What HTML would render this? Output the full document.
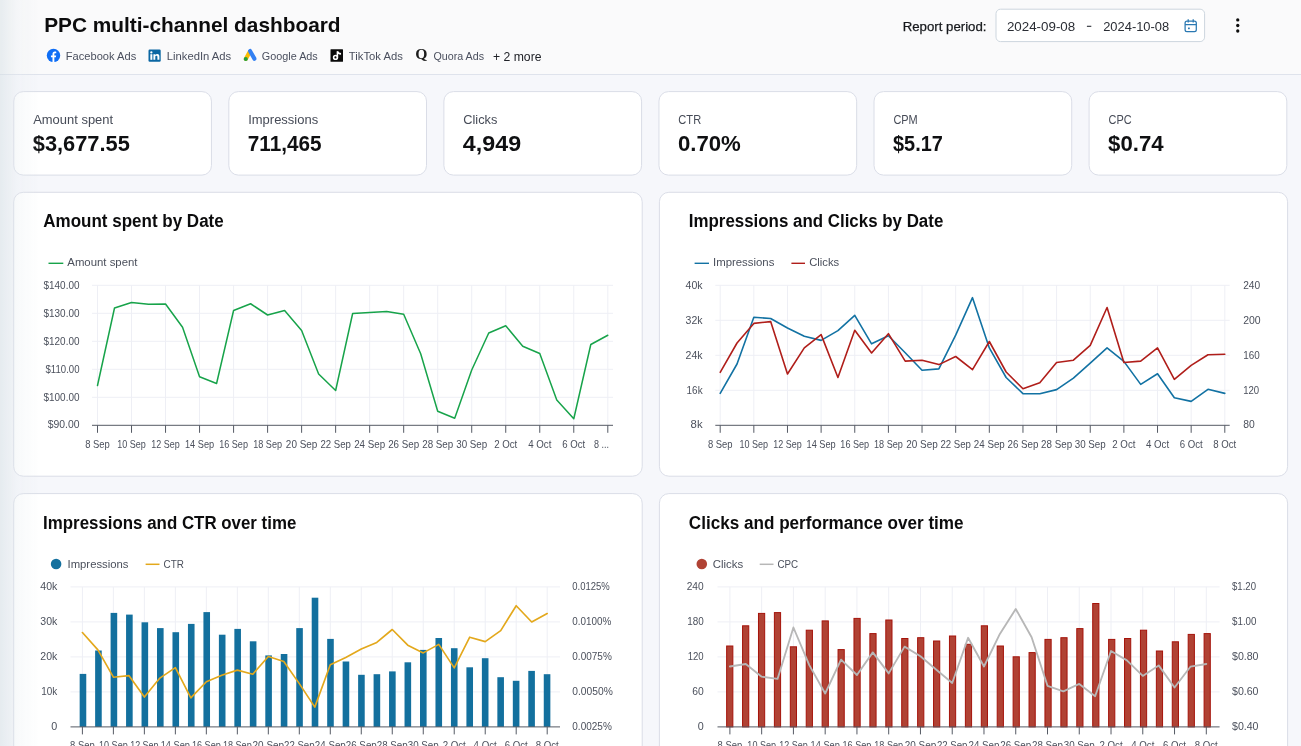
<!DOCTYPE html>
<html lang="en">
<head>
<meta charset="utf-8">
<title>PPC multi-channel dashboard</title>
<style>
*{box-sizing:border-box;margin:0;padding:0}
html,body{width:1301px;height:746px;overflow:hidden}
body{position:relative;background:#f6f7fb;font-family:"Liberation Sans", sans-serif;color:#111;-webkit-font-smoothing:antialiased}
.abs{position:absolute;white-space:nowrap}
.hdr{position:absolute;left:0;top:0;width:1301px;height:75px;background:#fafafb;border-bottom:1px solid #dfe3ec}
.charts{position:absolute;left:0;top:0;will-change:transform}
.edge{position:absolute;left:0;top:0;width:40px;height:746px;background:linear-gradient(90deg,rgba(214,224,228,.52),rgba(228,234,238,.26) 42%,rgba(240,243,246,0))}
</style>
</head>
<body>
<div class="hdr"></div>
<svg class="charts" width="1301" height="746" viewBox="0 0 1301 746" font-family="Liberation Sans, sans-serif"><rect x="13.75" y="91.6" width="197.7" height="83.5" rx="9.5" fill="#fff" stroke="#dadde7" stroke-width="1"/><rect x="228.82" y="91.6" width="197.7" height="83.5" rx="9.5" fill="#fff" stroke="#dadde7" stroke-width="1"/><rect x="443.89" y="91.6" width="197.7" height="83.5" rx="9.5" fill="#fff" stroke="#dadde7" stroke-width="1"/><rect x="658.96" y="91.6" width="197.7" height="83.5" rx="9.5" fill="#fff" stroke="#dadde7" stroke-width="1"/><rect x="874.03" y="91.6" width="197.7" height="83.5" rx="9.5" fill="#fff" stroke="#dadde7" stroke-width="1"/><rect x="1089.1" y="91.6" width="197.7" height="83.5" rx="9.5" fill="#fff" stroke="#dadde7" stroke-width="1"/><rect x="13.7" y="192.3" width="628.5" height="283.9" rx="9.5" fill="#fff" stroke="#dadde7" stroke-width="1"/><rect x="659.4" y="192.3" width="628.2" height="283.9" rx="9.5" fill="#fff" stroke="#dadde7" stroke-width="1"/><rect x="13.7" y="493.6" width="628.5" height="306.4" rx="9.5" fill="#fff" stroke="#dadde7" stroke-width="1"/><rect x="659.4" y="493.6" width="628.2" height="306.4" rx="9.5" fill="#fff" stroke="#dadde7" stroke-width="1"/><rect x="996" y="9.2" width="208.6" height="32.4" rx="4.5" fill="#fff" stroke="#cdd6de" stroke-width="1"/><line x1="92" y1="285.3" x2="613" y2="285.3" stroke="#eeeff5" stroke-width="1"/><line x1="92" y1="313.3" x2="613" y2="313.3" stroke="#eeeff5" stroke-width="1"/><line x1="92" y1="341.3" x2="613" y2="341.3" stroke="#eeeff5" stroke-width="1"/><line x1="92" y1="369.3" x2="613" y2="369.3" stroke="#eeeff5" stroke-width="1"/><line x1="92" y1="397.3" x2="613" y2="397.3" stroke="#eeeff5" stroke-width="1"/><line x1="97.5" y1="285.3" x2="97.5" y2="425.3" stroke="#eeeff5" stroke-width="1"/><line x1="131.52" y1="285.3" x2="131.52" y2="425.3" stroke="#eeeff5" stroke-width="1"/><line x1="165.54" y1="285.3" x2="165.54" y2="425.3" stroke="#eeeff5" stroke-width="1"/><line x1="199.56" y1="285.3" x2="199.56" y2="425.3" stroke="#eeeff5" stroke-width="1"/><line x1="233.58" y1="285.3" x2="233.58" y2="425.3" stroke="#eeeff5" stroke-width="1"/><line x1="267.6" y1="285.3" x2="267.6" y2="425.3" stroke="#eeeff5" stroke-width="1"/><line x1="301.62" y1="285.3" x2="301.62" y2="425.3" stroke="#eeeff5" stroke-width="1"/><line x1="335.64" y1="285.3" x2="335.64" y2="425.3" stroke="#eeeff5" stroke-width="1"/><line x1="369.66" y1="285.3" x2="369.66" y2="425.3" stroke="#eeeff5" stroke-width="1"/><line x1="403.68" y1="285.3" x2="403.68" y2="425.3" stroke="#eeeff5" stroke-width="1"/><line x1="437.7" y1="285.3" x2="437.7" y2="425.3" stroke="#eeeff5" stroke-width="1"/><line x1="471.72" y1="285.3" x2="471.72" y2="425.3" stroke="#eeeff5" stroke-width="1"/><line x1="505.74" y1="285.3" x2="505.74" y2="425.3" stroke="#eeeff5" stroke-width="1"/><line x1="539.76" y1="285.3" x2="539.76" y2="425.3" stroke="#eeeff5" stroke-width="1"/><line x1="573.78" y1="285.3" x2="573.78" y2="425.3" stroke="#eeeff5" stroke-width="1"/><line x1="607.8" y1="285.3" x2="607.8" y2="425.3" stroke="#eeeff5" stroke-width="1"/><polyline points="97.5,385.5 114.51,308 131.52,302.5 148.53,304.25 165.54,304 182.55,327.25 199.56,376.75 216.57,383.5 233.58,310.5 250.59,303.75 267.6,315 284.61,310.5 301.62,330.5 318.63,374 335.64,390.5 352.65,313.5 369.66,312.5 386.67,311.5 403.68,314.25 420.69,353.75 437.7,411.25 454.71,418.25 471.72,370 488.73,333 505.74,325.75 522.75,346.25 539.76,353.5 556.77,400 573.78,418.75 590.79,344.5 607.8,335.25" fill="none" stroke="#17a34a" stroke-width="1.5" stroke-linejoin="round" stroke-linecap="round"/><line x1="92" y1="425.3" x2="613" y2="425.3" stroke="#555a64" stroke-width="1"/><line x1="97.5" y1="425.3" x2="97.5" y2="432.8" stroke="#555a64" stroke-width="1"/><line x1="131.52" y1="425.3" x2="131.52" y2="432.8" stroke="#555a64" stroke-width="1"/><line x1="165.54" y1="425.3" x2="165.54" y2="432.8" stroke="#555a64" stroke-width="1"/><line x1="199.56" y1="425.3" x2="199.56" y2="432.8" stroke="#555a64" stroke-width="1"/><line x1="233.58" y1="425.3" x2="233.58" y2="432.8" stroke="#555a64" stroke-width="1"/><line x1="267.6" y1="425.3" x2="267.6" y2="432.8" stroke="#555a64" stroke-width="1"/><line x1="301.62" y1="425.3" x2="301.62" y2="432.8" stroke="#555a64" stroke-width="1"/><line x1="335.64" y1="425.3" x2="335.64" y2="432.8" stroke="#555a64" stroke-width="1"/><line x1="369.66" y1="425.3" x2="369.66" y2="432.8" stroke="#555a64" stroke-width="1"/><line x1="403.68" y1="425.3" x2="403.68" y2="432.8" stroke="#555a64" stroke-width="1"/><line x1="437.7" y1="425.3" x2="437.7" y2="432.8" stroke="#555a64" stroke-width="1"/><line x1="471.72" y1="425.3" x2="471.72" y2="432.8" stroke="#555a64" stroke-width="1"/><line x1="505.74" y1="425.3" x2="505.74" y2="432.8" stroke="#555a64" stroke-width="1"/><line x1="539.76" y1="425.3" x2="539.76" y2="432.8" stroke="#555a64" stroke-width="1"/><line x1="573.78" y1="425.3" x2="573.78" y2="432.8" stroke="#555a64" stroke-width="1"/><line x1="607.8" y1="425.3" x2="607.8" y2="432.8" stroke="#555a64" stroke-width="1"/><text x="79.5" y="288.7" font-size="10.5" fill="#4b505c" text-anchor="end" textLength="36" lengthAdjust="spacingAndGlyphs">$140.00</text><text x="79.5" y="316.7" font-size="10.5" fill="#4b505c" text-anchor="end" textLength="36" lengthAdjust="spacingAndGlyphs">$130.00</text><text x="79.5" y="344.7" font-size="10.5" fill="#4b505c" text-anchor="end" textLength="36" lengthAdjust="spacingAndGlyphs">$120.00</text><text x="79.5" y="372.7" font-size="10.5" fill="#4b505c" text-anchor="end" textLength="34" lengthAdjust="spacingAndGlyphs">$110.00</text><text x="79.5" y="400.7" font-size="10.5" fill="#4b505c" text-anchor="end" textLength="36" lengthAdjust="spacingAndGlyphs">$100.00</text><text x="79.5" y="428" font-size="10.5" fill="#4b505c" text-anchor="end" textLength="31.8" lengthAdjust="spacingAndGlyphs">$90.00</text><text x="97.5" y="447.7" font-size="10.6" fill="#4b505c" text-anchor="middle" textLength="24.6" lengthAdjust="spacingAndGlyphs">8 Sep</text><text x="131.52" y="447.7" font-size="10.6" fill="#4b505c" text-anchor="middle" textLength="28.6" lengthAdjust="spacingAndGlyphs">10 Sep</text><text x="165.54" y="447.7" font-size="10.6" fill="#4b505c" text-anchor="middle" textLength="28.4" lengthAdjust="spacingAndGlyphs">12 Sep</text><text x="199.56" y="447.7" font-size="10.6" fill="#4b505c" text-anchor="middle" textLength="29.2" lengthAdjust="spacingAndGlyphs">14 Sep</text><text x="233.58" y="447.7" font-size="10.6" fill="#4b505c" text-anchor="middle" textLength="28.8" lengthAdjust="spacingAndGlyphs">16 Sep</text><text x="267.6" y="447.7" font-size="10.6" fill="#4b505c" text-anchor="middle" textLength="28.8" lengthAdjust="spacingAndGlyphs">18 Sep</text><text x="301.62" y="447.7" font-size="10.6" fill="#4b505c" text-anchor="middle" textLength="31.5" lengthAdjust="spacingAndGlyphs">20 Sep</text><text x="335.64" y="447.7" font-size="10.6" fill="#4b505c" text-anchor="middle" textLength="30.5" lengthAdjust="spacingAndGlyphs">22 Sep</text><text x="369.66" y="447.7" font-size="10.6" fill="#4b505c" text-anchor="middle" textLength="31" lengthAdjust="spacingAndGlyphs">24 Sep</text><text x="403.68" y="447.7" font-size="10.6" fill="#4b505c" text-anchor="middle" textLength="31" lengthAdjust="spacingAndGlyphs">26 Sep</text><text x="437.7" y="447.7" font-size="10.6" fill="#4b505c" text-anchor="middle" textLength="31" lengthAdjust="spacingAndGlyphs">28 Sep</text><text x="471.72" y="447.7" font-size="10.6" fill="#4b505c" text-anchor="middle" textLength="31" lengthAdjust="spacingAndGlyphs">30 Sep</text><text x="505.74" y="447.7" font-size="10.6" fill="#4b505c" text-anchor="middle" textLength="23.2" lengthAdjust="spacingAndGlyphs">2 Oct</text><text x="539.76" y="447.7" font-size="10.6" fill="#4b505c" text-anchor="middle" textLength="23.2" lengthAdjust="spacingAndGlyphs">4 Oct</text><text x="573.78" y="447.7" font-size="10.6" fill="#4b505c" text-anchor="middle" textLength="23" lengthAdjust="spacingAndGlyphs">6 Oct</text><text x="609" y="447.7" font-size="10.6" fill="#4b505c" text-anchor="end" textLength="15" lengthAdjust="spacingAndGlyphs">8 ...</text><line x1="48.5" y1="263.3" x2="63.3" y2="263.3" stroke="#17a34a" stroke-width="1.4"/><text x="67.3" y="266.4" font-size="11.4" fill="#4b505c" textLength="70.2" lengthAdjust="spacingAndGlyphs">Amount spent</text><line x1="715.3" y1="285.3" x2="1229.7" y2="285.3" stroke="#eeeff5" stroke-width="1"/><line x1="715.3" y1="320.3" x2="1229.7" y2="320.3" stroke="#eeeff5" stroke-width="1"/><line x1="715.3" y1="355.3" x2="1229.7" y2="355.3" stroke="#eeeff5" stroke-width="1"/><line x1="715.3" y1="390.3" x2="1229.7" y2="390.3" stroke="#eeeff5" stroke-width="1"/><line x1="720.2" y1="285.3" x2="720.2" y2="425.3" stroke="#eeeff5" stroke-width="1"/><line x1="753.84" y1="285.3" x2="753.84" y2="425.3" stroke="#eeeff5" stroke-width="1"/><line x1="787.48" y1="285.3" x2="787.48" y2="425.3" stroke="#eeeff5" stroke-width="1"/><line x1="821.12" y1="285.3" x2="821.12" y2="425.3" stroke="#eeeff5" stroke-width="1"/><line x1="854.76" y1="285.3" x2="854.76" y2="425.3" stroke="#eeeff5" stroke-width="1"/><line x1="888.4" y1="285.3" x2="888.4" y2="425.3" stroke="#eeeff5" stroke-width="1"/><line x1="922.04" y1="285.3" x2="922.04" y2="425.3" stroke="#eeeff5" stroke-width="1"/><line x1="955.68" y1="285.3" x2="955.68" y2="425.3" stroke="#eeeff5" stroke-width="1"/><line x1="989.32" y1="285.3" x2="989.32" y2="425.3" stroke="#eeeff5" stroke-width="1"/><line x1="1022.96" y1="285.3" x2="1022.96" y2="425.3" stroke="#eeeff5" stroke-width="1"/><line x1="1056.6" y1="285.3" x2="1056.6" y2="425.3" stroke="#eeeff5" stroke-width="1"/><line x1="1090.24" y1="285.3" x2="1090.24" y2="425.3" stroke="#eeeff5" stroke-width="1"/><line x1="1123.88" y1="285.3" x2="1123.88" y2="425.3" stroke="#eeeff5" stroke-width="1"/><line x1="1157.52" y1="285.3" x2="1157.52" y2="425.3" stroke="#eeeff5" stroke-width="1"/><line x1="1191.16" y1="285.3" x2="1191.16" y2="425.3" stroke="#eeeff5" stroke-width="1"/><line x1="1224.8" y1="285.3" x2="1224.8" y2="425.3" stroke="#eeeff5" stroke-width="1"/><polyline points="720.2,393.4 737.02,364 753.84,317.3 770.66,318.5 787.48,328 804.3,336.3 821.12,340.4 837.94,330.6 854.76,315.3 871.58,343.8 888.4,335.8 905.22,352.7 922.04,370.3 938.86,368.9 955.68,335.2 972.5,297.7 989.32,347.9 1006.14,377.5 1022.96,393.7 1039.78,393.7 1056.6,389.6 1073.42,378.1 1090.24,363.1 1107.06,347.9 1123.88,361.4 1140.7,384.4 1157.52,373.8 1174.34,397.7 1191.16,401.4 1207.98,389.3 1224.8,393.4" fill="none" stroke="#1272a3" stroke-width="1.6" stroke-linejoin="round" stroke-linecap="round"/><polyline points="720.2,372.3 737.02,343 753.84,323.4 770.66,321.6 787.48,374 804.3,347.9 821.12,334.6 837.94,377.5 854.76,330.3 871.58,353 888.4,333.7 905.22,361.1 922.04,360.2 938.86,364.6 955.68,356.5 972.5,369.7 989.32,341.5 1006.14,372 1022.96,388.8 1039.78,382.7 1056.6,362.5 1073.42,360.2 1090.24,345.3 1107.06,307.5 1123.88,362.5 1140.7,361.1 1157.52,347.9 1174.34,379.3 1191.16,365.4 1207.98,354.8 1224.8,354.2" fill="none" stroke="#b01e1a" stroke-width="1.6" stroke-linejoin="round" stroke-linecap="round"/><line x1="715.3" y1="425.3" x2="1229.7" y2="425.3" stroke="#555a64" stroke-width="1"/><line x1="720.2" y1="425.3" x2="720.2" y2="432.8" stroke="#555a64" stroke-width="1"/><line x1="753.84" y1="425.3" x2="753.84" y2="432.8" stroke="#555a64" stroke-width="1"/><line x1="787.48" y1="425.3" x2="787.48" y2="432.8" stroke="#555a64" stroke-width="1"/><line x1="821.12" y1="425.3" x2="821.12" y2="432.8" stroke="#555a64" stroke-width="1"/><line x1="854.76" y1="425.3" x2="854.76" y2="432.8" stroke="#555a64" stroke-width="1"/><line x1="888.4" y1="425.3" x2="888.4" y2="432.8" stroke="#555a64" stroke-width="1"/><line x1="922.04" y1="425.3" x2="922.04" y2="432.8" stroke="#555a64" stroke-width="1"/><line x1="955.68" y1="425.3" x2="955.68" y2="432.8" stroke="#555a64" stroke-width="1"/><line x1="989.32" y1="425.3" x2="989.32" y2="432.8" stroke="#555a64" stroke-width="1"/><line x1="1022.96" y1="425.3" x2="1022.96" y2="432.8" stroke="#555a64" stroke-width="1"/><line x1="1056.6" y1="425.3" x2="1056.6" y2="432.8" stroke="#555a64" stroke-width="1"/><line x1="1090.24" y1="425.3" x2="1090.24" y2="432.8" stroke="#555a64" stroke-width="1"/><line x1="1123.88" y1="425.3" x2="1123.88" y2="432.8" stroke="#555a64" stroke-width="1"/><line x1="1157.52" y1="425.3" x2="1157.52" y2="432.8" stroke="#555a64" stroke-width="1"/><line x1="1191.16" y1="425.3" x2="1191.16" y2="432.8" stroke="#555a64" stroke-width="1"/><line x1="1224.8" y1="425.3" x2="1224.8" y2="432.8" stroke="#555a64" stroke-width="1"/><text x="702.6" y="288.7" font-size="10.5" fill="#4b505c" text-anchor="end" textLength="17" lengthAdjust="spacingAndGlyphs">40k</text><text x="702.6" y="323.7" font-size="10.5" fill="#4b505c" text-anchor="end" textLength="17" lengthAdjust="spacingAndGlyphs">32k</text><text x="702.6" y="358.7" font-size="10.5" fill="#4b505c" text-anchor="end" textLength="17" lengthAdjust="spacingAndGlyphs">24k</text><text x="702.6" y="393.7" font-size="10.5" fill="#4b505c" text-anchor="end" textLength="16" lengthAdjust="spacingAndGlyphs">16k</text><text x="702.6" y="428" font-size="10.5" fill="#4b505c" text-anchor="end" textLength="12" lengthAdjust="spacingAndGlyphs">8k</text><text x="1243.2" y="288.7" font-size="10.5" fill="#4b505c" textLength="17" lengthAdjust="spacingAndGlyphs">240</text><text x="1243.2" y="323.7" font-size="10.5" fill="#4b505c" textLength="17.5" lengthAdjust="spacingAndGlyphs">200</text><text x="1243.2" y="358.7" font-size="10.5" fill="#4b505c" textLength="16.5" lengthAdjust="spacingAndGlyphs">160</text><text x="1243.2" y="393.7" font-size="10.5" fill="#4b505c" textLength="16" lengthAdjust="spacingAndGlyphs">120</text><text x="1243.2" y="428" font-size="10.5" fill="#4b505c" textLength="11.5" lengthAdjust="spacingAndGlyphs">80</text><text x="720.2" y="447.7" font-size="10.6" fill="#4b505c" text-anchor="middle" textLength="24.6" lengthAdjust="spacingAndGlyphs">8 Sep</text><text x="753.84" y="447.7" font-size="10.6" fill="#4b505c" text-anchor="middle" textLength="28.6" lengthAdjust="spacingAndGlyphs">10 Sep</text><text x="787.48" y="447.7" font-size="10.6" fill="#4b505c" text-anchor="middle" textLength="28.4" lengthAdjust="spacingAndGlyphs">12 Sep</text><text x="821.12" y="447.7" font-size="10.6" fill="#4b505c" text-anchor="middle" textLength="29.2" lengthAdjust="spacingAndGlyphs">14 Sep</text><text x="854.76" y="447.7" font-size="10.6" fill="#4b505c" text-anchor="middle" textLength="28.8" lengthAdjust="spacingAndGlyphs">16 Sep</text><text x="888.4" y="447.7" font-size="10.6" fill="#4b505c" text-anchor="middle" textLength="28.8" lengthAdjust="spacingAndGlyphs">18 Sep</text><text x="922.04" y="447.7" font-size="10.6" fill="#4b505c" text-anchor="middle" textLength="31.5" lengthAdjust="spacingAndGlyphs">20 Sep</text><text x="955.68" y="447.7" font-size="10.6" fill="#4b505c" text-anchor="middle" textLength="30.5" lengthAdjust="spacingAndGlyphs">22 Sep</text><text x="989.32" y="447.7" font-size="10.6" fill="#4b505c" text-anchor="middle" textLength="31" lengthAdjust="spacingAndGlyphs">24 Sep</text><text x="1022.96" y="447.7" font-size="10.6" fill="#4b505c" text-anchor="middle" textLength="31" lengthAdjust="spacingAndGlyphs">26 Sep</text><text x="1056.6" y="447.7" font-size="10.6" fill="#4b505c" text-anchor="middle" textLength="31" lengthAdjust="spacingAndGlyphs">28 Sep</text><text x="1090.24" y="447.7" font-size="10.6" fill="#4b505c" text-anchor="middle" textLength="31" lengthAdjust="spacingAndGlyphs">30 Sep</text><text x="1123.88" y="447.7" font-size="10.6" fill="#4b505c" text-anchor="middle" textLength="23.2" lengthAdjust="spacingAndGlyphs">2 Oct</text><text x="1157.52" y="447.7" font-size="10.6" fill="#4b505c" text-anchor="middle" textLength="23.2" lengthAdjust="spacingAndGlyphs">4 Oct</text><text x="1191.16" y="447.7" font-size="10.6" fill="#4b505c" text-anchor="middle" textLength="23" lengthAdjust="spacingAndGlyphs">6 Oct</text><text x="1224.8" y="447.7" font-size="10.6" fill="#4b505c" text-anchor="middle" textLength="23" lengthAdjust="spacingAndGlyphs">8 Oct</text><line x1="694.6" y1="263.3" x2="709" y2="263.3" stroke="#1272a3" stroke-width="1.4"/><text x="713" y="266.4" font-size="11.4" fill="#4b505c" textLength="61.4" lengthAdjust="spacingAndGlyphs">Impressions</text><line x1="791.4" y1="263.3" x2="805" y2="263.3" stroke="#b01e1a" stroke-width="1.4"/><text x="809.2" y="266.4" font-size="11.4" fill="#4b505c" textLength="30" lengthAdjust="spacingAndGlyphs">Clicks</text><line x1="70.5" y1="586.9" x2="560" y2="586.9" stroke="#eeeff5" stroke-width="1"/><line x1="70.5" y1="621.9" x2="560" y2="621.9" stroke="#eeeff5" stroke-width="1"/><line x1="70.5" y1="656.9" x2="560" y2="656.9" stroke="#eeeff5" stroke-width="1"/><line x1="70.5" y1="691.9" x2="560" y2="691.9" stroke="#eeeff5" stroke-width="1"/><line x1="82.4" y1="586.9" x2="82.4" y2="726.9" stroke="#eeeff5" stroke-width="1"/><line x1="113.39" y1="586.9" x2="113.39" y2="726.9" stroke="#eeeff5" stroke-width="1"/><line x1="144.37" y1="586.9" x2="144.37" y2="726.9" stroke="#eeeff5" stroke-width="1"/><line x1="175.36" y1="586.9" x2="175.36" y2="726.9" stroke="#eeeff5" stroke-width="1"/><line x1="206.34" y1="586.9" x2="206.34" y2="726.9" stroke="#eeeff5" stroke-width="1"/><line x1="237.33" y1="586.9" x2="237.33" y2="726.9" stroke="#eeeff5" stroke-width="1"/><line x1="268.32" y1="586.9" x2="268.32" y2="726.9" stroke="#eeeff5" stroke-width="1"/><line x1="299.3" y1="586.9" x2="299.3" y2="726.9" stroke="#eeeff5" stroke-width="1"/><line x1="330.29" y1="586.9" x2="330.29" y2="726.9" stroke="#eeeff5" stroke-width="1"/><line x1="361.27" y1="586.9" x2="361.27" y2="726.9" stroke="#eeeff5" stroke-width="1"/><line x1="392.26" y1="586.9" x2="392.26" y2="726.9" stroke="#eeeff5" stroke-width="1"/><line x1="423.25" y1="586.9" x2="423.25" y2="726.9" stroke="#eeeff5" stroke-width="1"/><line x1="454.23" y1="586.9" x2="454.23" y2="726.9" stroke="#eeeff5" stroke-width="1"/><line x1="485.22" y1="586.9" x2="485.22" y2="726.9" stroke="#eeeff5" stroke-width="1"/><line x1="516.2" y1="586.9" x2="516.2" y2="726.9" stroke="#eeeff5" stroke-width="1"/><line x1="547.19" y1="586.9" x2="547.19" y2="726.9" stroke="#eeeff5" stroke-width="1"/><rect x="79.66" y="673.9" width="6.6" height="53" fill="#13709e"/><rect x="95.13" y="650.5" width="6.6" height="76.4" fill="#13709e"/><rect x="110.6" y="612.9" width="6.6" height="114" fill="#13709e"/><rect x="126.07" y="614.6" width="6.6" height="112.3" fill="#13709e"/><rect x="141.54" y="622.3" width="6.6" height="104.6" fill="#13709e"/><rect x="157.01" y="628.1" width="6.6" height="98.8" fill="#13709e"/><rect x="172.48" y="632.2" width="6.6" height="94.7" fill="#13709e"/><rect x="187.95" y="623.9" width="6.6" height="103" fill="#13709e"/><rect x="203.42" y="612.1" width="6.6" height="114.8" fill="#13709e"/><rect x="218.89" y="634.7" width="6.6" height="92.2" fill="#13709e"/><rect x="234.36" y="628.9" width="6.6" height="98" fill="#13709e"/><rect x="249.83" y="641.3" width="6.6" height="85.6" fill="#13709e"/><rect x="265.3" y="655.4" width="6.6" height="71.5" fill="#13709e"/><rect x="280.77" y="654" width="6.6" height="72.9" fill="#13709e"/><rect x="296.24" y="628.1" width="6.6" height="98.8" fill="#13709e"/><rect x="311.71" y="597.7" width="6.6" height="129.2" fill="#13709e"/><rect x="327.18" y="638.9" width="6.6" height="88" fill="#13709e"/><rect x="342.65" y="661.5" width="6.6" height="65.4" fill="#13709e"/><rect x="358.12" y="674.8" width="6.6" height="52.1" fill="#13709e"/><rect x="373.59" y="674.2" width="6.6" height="52.7" fill="#13709e"/><rect x="389.06" y="671.4" width="6.6" height="55.5" fill="#13709e"/><rect x="404.53" y="662.3" width="6.6" height="64.6" fill="#13709e"/><rect x="420" y="649.9" width="6.6" height="77" fill="#13709e"/><rect x="435.47" y="638" width="6.6" height="88.9" fill="#13709e"/><rect x="450.94" y="648.2" width="6.6" height="78.7" fill="#13709e"/><rect x="466.41" y="667.3" width="6.6" height="59.6" fill="#13709e"/><rect x="481.88" y="658.2" width="6.6" height="68.7" fill="#13709e"/><rect x="497.35" y="677.2" width="6.6" height="49.7" fill="#13709e"/><rect x="512.82" y="680.8" width="6.6" height="46.1" fill="#13709e"/><rect x="528.29" y="670.9" width="6.6" height="56" fill="#13709e"/><rect x="543.76" y="674.2" width="6.6" height="52.7" fill="#13709e"/><polyline points="82.4,632.5 97.89,649.9 113.39,677.2 128.88,675.6 144.37,697.1 159.87,678.1 175.36,667.6 190.85,697.9 206.34,681.7 221.84,675.3 237.33,670.1 252.82,674.2 268.32,656.5 283.81,661.5 299.3,683.6 314.8,707.1 330.29,664.8 345.78,657.4 361.27,649.1 376.77,642.4 392.26,629.5 407.75,645.2 423.25,652.9 438.74,644.4 454.23,667.9 469.73,637.2 485.22,641.6 500.71,630.6 516.2,605.7 531.7,622 547.19,613.5" fill="none" stroke="#e3a81c" stroke-width="1.65" stroke-linejoin="round" stroke-linecap="round"/><line x1="70.5" y1="726.9" x2="560" y2="726.9" stroke="#555a64" stroke-width="1"/><line x1="82.4" y1="726.9" x2="82.4" y2="734.4" stroke="#555a64" stroke-width="1"/><line x1="113.39" y1="726.9" x2="113.39" y2="734.4" stroke="#555a64" stroke-width="1"/><line x1="144.37" y1="726.9" x2="144.37" y2="734.4" stroke="#555a64" stroke-width="1"/><line x1="175.36" y1="726.9" x2="175.36" y2="734.4" stroke="#555a64" stroke-width="1"/><line x1="206.34" y1="726.9" x2="206.34" y2="734.4" stroke="#555a64" stroke-width="1"/><line x1="237.33" y1="726.9" x2="237.33" y2="734.4" stroke="#555a64" stroke-width="1"/><line x1="268.32" y1="726.9" x2="268.32" y2="734.4" stroke="#555a64" stroke-width="1"/><line x1="299.3" y1="726.9" x2="299.3" y2="734.4" stroke="#555a64" stroke-width="1"/><line x1="330.29" y1="726.9" x2="330.29" y2="734.4" stroke="#555a64" stroke-width="1"/><line x1="361.27" y1="726.9" x2="361.27" y2="734.4" stroke="#555a64" stroke-width="1"/><line x1="392.26" y1="726.9" x2="392.26" y2="734.4" stroke="#555a64" stroke-width="1"/><line x1="423.25" y1="726.9" x2="423.25" y2="734.4" stroke="#555a64" stroke-width="1"/><line x1="454.23" y1="726.9" x2="454.23" y2="734.4" stroke="#555a64" stroke-width="1"/><line x1="485.22" y1="726.9" x2="485.22" y2="734.4" stroke="#555a64" stroke-width="1"/><line x1="516.2" y1="726.9" x2="516.2" y2="734.4" stroke="#555a64" stroke-width="1"/><line x1="547.19" y1="726.9" x2="547.19" y2="734.4" stroke="#555a64" stroke-width="1"/><text x="57.3" y="590.3" font-size="10.5" fill="#4b505c" text-anchor="end" textLength="17" lengthAdjust="spacingAndGlyphs">40k</text><text x="57.3" y="625.3" font-size="10.5" fill="#4b505c" text-anchor="end" textLength="17" lengthAdjust="spacingAndGlyphs">30k</text><text x="57.3" y="660.3" font-size="10.5" fill="#4b505c" text-anchor="end" textLength="17" lengthAdjust="spacingAndGlyphs">20k</text><text x="57.3" y="695.3" font-size="10.5" fill="#4b505c" text-anchor="end" textLength="16" lengthAdjust="spacingAndGlyphs">10k</text><text x="57.3" y="729.6" font-size="10.5" fill="#4b505c" text-anchor="end" textLength="6" lengthAdjust="spacingAndGlyphs">0</text><text x="572.3" y="590.3" font-size="10.5" fill="#4b505c" textLength="37.5" lengthAdjust="spacingAndGlyphs">0.0125%</text><text x="572.3" y="625.3" font-size="10.5" fill="#4b505c" textLength="39" lengthAdjust="spacingAndGlyphs">0.0100%</text><text x="572.3" y="660.3" font-size="10.5" fill="#4b505c" textLength="39.5" lengthAdjust="spacingAndGlyphs">0.0075%</text><text x="572.3" y="695.3" font-size="10.5" fill="#4b505c" textLength="40.5" lengthAdjust="spacingAndGlyphs">0.0050%</text><text x="572.3" y="729.6" font-size="10.5" fill="#4b505c" textLength="39.5" lengthAdjust="spacingAndGlyphs">0.0025%</text><text x="82.4" y="749.3" font-size="10.6" fill="#4b505c" text-anchor="middle" textLength="24.6" lengthAdjust="spacingAndGlyphs">8 Sep</text><text x="113.39" y="749.3" font-size="10.6" fill="#4b505c" text-anchor="middle" textLength="28.6" lengthAdjust="spacingAndGlyphs">10 Sep</text><text x="144.37" y="749.3" font-size="10.6" fill="#4b505c" text-anchor="middle" textLength="28.4" lengthAdjust="spacingAndGlyphs">12 Sep</text><text x="175.36" y="749.3" font-size="10.6" fill="#4b505c" text-anchor="middle" textLength="29.2" lengthAdjust="spacingAndGlyphs">14 Sep</text><text x="206.34" y="749.3" font-size="10.6" fill="#4b505c" text-anchor="middle" textLength="28.8" lengthAdjust="spacingAndGlyphs">16 Sep</text><text x="237.33" y="749.3" font-size="10.6" fill="#4b505c" text-anchor="middle" textLength="28.8" lengthAdjust="spacingAndGlyphs">18 Sep</text><text x="268.32" y="749.3" font-size="10.6" fill="#4b505c" text-anchor="middle" textLength="31.5" lengthAdjust="spacingAndGlyphs">20 Sep</text><text x="299.3" y="749.3" font-size="10.6" fill="#4b505c" text-anchor="middle" textLength="30.5" lengthAdjust="spacingAndGlyphs">22 Sep</text><text x="330.29" y="749.3" font-size="10.6" fill="#4b505c" text-anchor="middle" textLength="31" lengthAdjust="spacingAndGlyphs">24 Sep</text><text x="361.27" y="749.3" font-size="10.6" fill="#4b505c" text-anchor="middle" textLength="31" lengthAdjust="spacingAndGlyphs">26 Sep</text><text x="392.26" y="749.3" font-size="10.6" fill="#4b505c" text-anchor="middle" textLength="31" lengthAdjust="spacingAndGlyphs">28 Sep</text><text x="423.25" y="749.3" font-size="10.6" fill="#4b505c" text-anchor="middle" textLength="31" lengthAdjust="spacingAndGlyphs">30 Sep</text><text x="454.23" y="749.3" font-size="10.6" fill="#4b505c" text-anchor="middle" textLength="23.2" lengthAdjust="spacingAndGlyphs">2 Oct</text><text x="485.22" y="749.3" font-size="10.6" fill="#4b505c" text-anchor="middle" textLength="23.2" lengthAdjust="spacingAndGlyphs">4 Oct</text><text x="516.2" y="749.3" font-size="10.6" fill="#4b505c" text-anchor="middle" textLength="23" lengthAdjust="spacingAndGlyphs">6 Oct</text><text x="547.19" y="749.3" font-size="10.6" fill="#4b505c" text-anchor="middle" textLength="23" lengthAdjust="spacingAndGlyphs">8 Oct</text><circle cx="56.1" cy="564" r="5.3" fill="#13709e"/><text x="67.5" y="568.1" font-size="11.4" fill="#4b505c" textLength="61" lengthAdjust="spacingAndGlyphs">Impressions</text><line x1="145.6" y1="564.3" x2="159.5" y2="564.3" stroke="#e3a81c" stroke-width="1.5"/><text x="163.6" y="568.1" font-size="11.4" fill="#4b505c" textLength="20.4" lengthAdjust="spacingAndGlyphs">CTR</text><line x1="717.5" y1="586.9" x2="1219.6" y2="586.9" stroke="#eeeff5" stroke-width="1"/><line x1="717.5" y1="621.9" x2="1219.6" y2="621.9" stroke="#eeeff5" stroke-width="1"/><line x1="717.5" y1="656.9" x2="1219.6" y2="656.9" stroke="#eeeff5" stroke-width="1"/><line x1="717.5" y1="691.9" x2="1219.6" y2="691.9" stroke="#eeeff5" stroke-width="1"/><line x1="729.9" y1="586.9" x2="729.9" y2="726.9" stroke="#eeeff5" stroke-width="1"/><line x1="761.66" y1="586.9" x2="761.66" y2="726.9" stroke="#eeeff5" stroke-width="1"/><line x1="793.42" y1="586.9" x2="793.42" y2="726.9" stroke="#eeeff5" stroke-width="1"/><line x1="825.18" y1="586.9" x2="825.18" y2="726.9" stroke="#eeeff5" stroke-width="1"/><line x1="856.94" y1="586.9" x2="856.94" y2="726.9" stroke="#eeeff5" stroke-width="1"/><line x1="888.7" y1="586.9" x2="888.7" y2="726.9" stroke="#eeeff5" stroke-width="1"/><line x1="920.46" y1="586.9" x2="920.46" y2="726.9" stroke="#eeeff5" stroke-width="1"/><line x1="952.22" y1="586.9" x2="952.22" y2="726.9" stroke="#eeeff5" stroke-width="1"/><line x1="983.98" y1="586.9" x2="983.98" y2="726.9" stroke="#eeeff5" stroke-width="1"/><line x1="1015.74" y1="586.9" x2="1015.74" y2="726.9" stroke="#eeeff5" stroke-width="1"/><line x1="1047.5" y1="586.9" x2="1047.5" y2="726.9" stroke="#eeeff5" stroke-width="1"/><line x1="1079.26" y1="586.9" x2="1079.26" y2="726.9" stroke="#eeeff5" stroke-width="1"/><line x1="1111.02" y1="586.9" x2="1111.02" y2="726.9" stroke="#eeeff5" stroke-width="1"/><line x1="1142.78" y1="586.9" x2="1142.78" y2="726.9" stroke="#eeeff5" stroke-width="1"/><line x1="1174.54" y1="586.9" x2="1174.54" y2="726.9" stroke="#eeeff5" stroke-width="1"/><line x1="1206.3" y1="586.9" x2="1206.3" y2="726.9" stroke="#eeeff5" stroke-width="1"/><rect x="726.65" y="646" width="6.2" height="80.9" fill="#b04234" stroke="#a5130a" stroke-width="1"/><rect x="742.56" y="625.8" width="6.2" height="101.1" fill="#b04234" stroke="#a5130a" stroke-width="1"/><rect x="758.48" y="613.4" width="6.2" height="113.5" fill="#b04234" stroke="#a5130a" stroke-width="1"/><rect x="774.39" y="612.6" width="6.2" height="114.3" fill="#b04234" stroke="#a5130a" stroke-width="1"/><rect x="790.31" y="646.8" width="6.2" height="80.1" fill="#b04234" stroke="#a5130a" stroke-width="1"/><rect x="806.23" y="630.2" width="6.2" height="96.7" fill="#b04234" stroke="#a5130a" stroke-width="1"/><rect x="822.14" y="620.9" width="6.2" height="106" fill="#b04234" stroke="#a5130a" stroke-width="1"/><rect x="838.05" y="649.6" width="6.2" height="77.3" fill="#b04234" stroke="#a5130a" stroke-width="1"/><rect x="853.97" y="618.4" width="6.2" height="108.5" fill="#b04234" stroke="#a5130a" stroke-width="1"/><rect x="869.88" y="633.6" width="6.2" height="93.3" fill="#b04234" stroke="#a5130a" stroke-width="1"/><rect x="885.8" y="620" width="6.2" height="106.9" fill="#b04234" stroke="#a5130a" stroke-width="1"/><rect x="901.72" y="638.5" width="6.2" height="88.4" fill="#b04234" stroke="#a5130a" stroke-width="1"/><rect x="917.63" y="637.7" width="6.2" height="89.2" fill="#b04234" stroke="#a5130a" stroke-width="1"/><rect x="933.54" y="641" width="6.2" height="85.9" fill="#b04234" stroke="#a5130a" stroke-width="1"/><rect x="949.46" y="636" width="6.2" height="90.9" fill="#b04234" stroke="#a5130a" stroke-width="1"/><rect x="965.38" y="644.3" width="6.2" height="82.6" fill="#b04234" stroke="#a5130a" stroke-width="1"/><rect x="981.29" y="625.8" width="6.2" height="101.1" fill="#b04234" stroke="#a5130a" stroke-width="1"/><rect x="997.21" y="646" width="6.2" height="80.9" fill="#b04234" stroke="#a5130a" stroke-width="1"/><rect x="1013.12" y="656.8" width="6.2" height="70.1" fill="#b04234" stroke="#a5130a" stroke-width="1"/><rect x="1029.04" y="652.6" width="6.2" height="74.3" fill="#b04234" stroke="#a5130a" stroke-width="1"/><rect x="1044.95" y="639.4" width="6.2" height="87.5" fill="#b04234" stroke="#a5130a" stroke-width="1"/><rect x="1060.87" y="637.7" width="6.2" height="89.2" fill="#b04234" stroke="#a5130a" stroke-width="1"/><rect x="1076.78" y="628.6" width="6.2" height="98.3" fill="#b04234" stroke="#a5130a" stroke-width="1"/><rect x="1092.7" y="603.5" width="6.2" height="123.4" fill="#b04234" stroke="#a5130a" stroke-width="1"/><rect x="1108.61" y="639.4" width="6.2" height="87.5" fill="#b04234" stroke="#a5130a" stroke-width="1"/><rect x="1124.53" y="638.5" width="6.2" height="88.4" fill="#b04234" stroke="#a5130a" stroke-width="1"/><rect x="1140.44" y="630.2" width="6.2" height="96.7" fill="#b04234" stroke="#a5130a" stroke-width="1"/><rect x="1156.36" y="651" width="6.2" height="75.9" fill="#b04234" stroke="#a5130a" stroke-width="1"/><rect x="1172.27" y="641.8" width="6.2" height="85.1" fill="#b04234" stroke="#a5130a" stroke-width="1"/><rect x="1188.18" y="634.4" width="6.2" height="92.5" fill="#b04234" stroke="#a5130a" stroke-width="1"/><rect x="1204.1" y="633.6" width="6.2" height="93.3" fill="#b04234" stroke="#a5130a" stroke-width="1"/><polyline points="729.9,666.5 745.78,664 761.66,676.7 777.54,678.9 793.42,627.5 809.3,665.1 825.18,693.5 841.06,659.6 856.94,675 872.82,652.4 888.7,673.4 904.58,646.6 920.46,656.3 936.34,669.8 952.22,683 968.1,637.8 983.98,666.5 999.86,633.9 1015.74,609 1031.62,637.2 1047.5,685.8 1063.38,691.3 1079.26,683.9 1095.14,696.3 1111.02,651 1126.9,660.4 1142.78,675.9 1158.66,665.4 1174.54,687.5 1190.42,666.7 1206.3,664" fill="none" stroke="#b7b7b7" stroke-width="1.85" stroke-linejoin="round" stroke-linecap="round"/><line x1="717.5" y1="726.9" x2="1219.6" y2="726.9" stroke="#555a64" stroke-width="1"/><line x1="729.9" y1="726.9" x2="729.9" y2="734.4" stroke="#555a64" stroke-width="1"/><line x1="761.66" y1="726.9" x2="761.66" y2="734.4" stroke="#555a64" stroke-width="1"/><line x1="793.42" y1="726.9" x2="793.42" y2="734.4" stroke="#555a64" stroke-width="1"/><line x1="825.18" y1="726.9" x2="825.18" y2="734.4" stroke="#555a64" stroke-width="1"/><line x1="856.94" y1="726.9" x2="856.94" y2="734.4" stroke="#555a64" stroke-width="1"/><line x1="888.7" y1="726.9" x2="888.7" y2="734.4" stroke="#555a64" stroke-width="1"/><line x1="920.46" y1="726.9" x2="920.46" y2="734.4" stroke="#555a64" stroke-width="1"/><line x1="952.22" y1="726.9" x2="952.22" y2="734.4" stroke="#555a64" stroke-width="1"/><line x1="983.98" y1="726.9" x2="983.98" y2="734.4" stroke="#555a64" stroke-width="1"/><line x1="1015.74" y1="726.9" x2="1015.74" y2="734.4" stroke="#555a64" stroke-width="1"/><line x1="1047.5" y1="726.9" x2="1047.5" y2="734.4" stroke="#555a64" stroke-width="1"/><line x1="1079.26" y1="726.9" x2="1079.26" y2="734.4" stroke="#555a64" stroke-width="1"/><line x1="1111.02" y1="726.9" x2="1111.02" y2="734.4" stroke="#555a64" stroke-width="1"/><line x1="1142.78" y1="726.9" x2="1142.78" y2="734.4" stroke="#555a64" stroke-width="1"/><line x1="1174.54" y1="726.9" x2="1174.54" y2="734.4" stroke="#555a64" stroke-width="1"/><line x1="1206.3" y1="726.9" x2="1206.3" y2="734.4" stroke="#555a64" stroke-width="1"/><text x="703.7" y="590.3" font-size="10.5" fill="#4b505c" text-anchor="end" textLength="17" lengthAdjust="spacingAndGlyphs">240</text><text x="703.7" y="625.3" font-size="10.5" fill="#4b505c" text-anchor="end" textLength="16.5" lengthAdjust="spacingAndGlyphs">180</text><text x="703.7" y="660.3" font-size="10.5" fill="#4b505c" text-anchor="end" textLength="16" lengthAdjust="spacingAndGlyphs">120</text><text x="703.7" y="695.3" font-size="10.5" fill="#4b505c" text-anchor="end" textLength="11.5" lengthAdjust="spacingAndGlyphs">60</text><text x="703.7" y="729.6" font-size="10.5" fill="#4b505c" text-anchor="end" textLength="6" lengthAdjust="spacingAndGlyphs">0</text><text x="1232" y="590.3" font-size="10.5" fill="#4b505c" textLength="24" lengthAdjust="spacingAndGlyphs">$1.20</text><text x="1232" y="625.3" font-size="10.5" fill="#4b505c" textLength="24.5" lengthAdjust="spacingAndGlyphs">$1.00</text><text x="1232" y="660.3" font-size="10.5" fill="#4b505c" textLength="26.5" lengthAdjust="spacingAndGlyphs">$0.80</text><text x="1232" y="695.3" font-size="10.5" fill="#4b505c" textLength="26.5" lengthAdjust="spacingAndGlyphs">$0.60</text><text x="1232" y="729.6" font-size="10.5" fill="#4b505c" textLength="26.5" lengthAdjust="spacingAndGlyphs">$0.40</text><text x="729.9" y="749.3" font-size="10.6" fill="#4b505c" text-anchor="middle" textLength="24.6" lengthAdjust="spacingAndGlyphs">8 Sep</text><text x="761.66" y="749.3" font-size="10.6" fill="#4b505c" text-anchor="middle" textLength="28.6" lengthAdjust="spacingAndGlyphs">10 Sep</text><text x="793.42" y="749.3" font-size="10.6" fill="#4b505c" text-anchor="middle" textLength="28.4" lengthAdjust="spacingAndGlyphs">12 Sep</text><text x="825.18" y="749.3" font-size="10.6" fill="#4b505c" text-anchor="middle" textLength="29.2" lengthAdjust="spacingAndGlyphs">14 Sep</text><text x="856.94" y="749.3" font-size="10.6" fill="#4b505c" text-anchor="middle" textLength="28.8" lengthAdjust="spacingAndGlyphs">16 Sep</text><text x="888.7" y="749.3" font-size="10.6" fill="#4b505c" text-anchor="middle" textLength="28.8" lengthAdjust="spacingAndGlyphs">18 Sep</text><text x="920.46" y="749.3" font-size="10.6" fill="#4b505c" text-anchor="middle" textLength="31.5" lengthAdjust="spacingAndGlyphs">20 Sep</text><text x="952.22" y="749.3" font-size="10.6" fill="#4b505c" text-anchor="middle" textLength="30.5" lengthAdjust="spacingAndGlyphs">22 Sep</text><text x="983.98" y="749.3" font-size="10.6" fill="#4b505c" text-anchor="middle" textLength="31" lengthAdjust="spacingAndGlyphs">24 Sep</text><text x="1015.74" y="749.3" font-size="10.6" fill="#4b505c" text-anchor="middle" textLength="31" lengthAdjust="spacingAndGlyphs">26 Sep</text><text x="1047.5" y="749.3" font-size="10.6" fill="#4b505c" text-anchor="middle" textLength="31" lengthAdjust="spacingAndGlyphs">28 Sep</text><text x="1079.26" y="749.3" font-size="10.6" fill="#4b505c" text-anchor="middle" textLength="31" lengthAdjust="spacingAndGlyphs">30 Sep</text><text x="1111.02" y="749.3" font-size="10.6" fill="#4b505c" text-anchor="middle" textLength="23.2" lengthAdjust="spacingAndGlyphs">2 Oct</text><text x="1142.78" y="749.3" font-size="10.6" fill="#4b505c" text-anchor="middle" textLength="23.2" lengthAdjust="spacingAndGlyphs">4 Oct</text><text x="1174.54" y="749.3" font-size="10.6" fill="#4b505c" text-anchor="middle" textLength="23" lengthAdjust="spacingAndGlyphs">6 Oct</text><text x="1206.3" y="749.3" font-size="10.6" fill="#4b505c" text-anchor="middle" textLength="23" lengthAdjust="spacingAndGlyphs">8 Oct</text><circle cx="701.8" cy="564" r="5.3" fill="#b04234"/><text x="712.8" y="568.1" font-size="11.4" fill="#4b505c" textLength="30.4" lengthAdjust="spacingAndGlyphs">Clicks</text><line x1="759.7" y1="564.3" x2="773.5" y2="564.3" stroke="#b7b7b7" stroke-width="1.5"/><text x="777.4" y="568.1" font-size="11.4" fill="#4b505c" textLength="20.7" lengthAdjust="spacingAndGlyphs">CPC</text><text x="33.15" y="123.9" font-size="12.4" fill="#464b57" textLength="80" lengthAdjust="spacingAndGlyphs">Amount spent</text><text x="32.75" y="150.7" font-size="21.8" fill="#0f1012" textLength="97.1" lengthAdjust="spacingAndGlyphs" font-weight="700">$3,677.55</text><text x="248.22" y="123.9" font-size="12.4" fill="#464b57" textLength="69.9" lengthAdjust="spacingAndGlyphs">Impressions</text><text x="247.82" y="150.7" font-size="21.8" fill="#0f1012" textLength="73.7" lengthAdjust="spacingAndGlyphs" font-weight="700">711,465</text><text x="463.29" y="123.9" font-size="12.4" fill="#464b57" textLength="34.1" lengthAdjust="spacingAndGlyphs">Clicks</text><text x="462.89" y="150.7" font-size="21.8" fill="#0f1012" textLength="58.2" lengthAdjust="spacingAndGlyphs" font-weight="700">4,949</text><text x="678.36" y="123.9" font-size="12.4" fill="#464b57" textLength="22.8" lengthAdjust="spacingAndGlyphs">CTR</text><text x="677.96" y="150.7" font-size="21.8" fill="#0f1012" textLength="62.9" lengthAdjust="spacingAndGlyphs" font-weight="700">0.70%</text><text x="893.43" y="123.9" font-size="12.4" fill="#464b57" textLength="24.3" lengthAdjust="spacingAndGlyphs">CPM</text><text x="893.03" y="150.7" font-size="21.8" fill="#0f1012" textLength="49.8" lengthAdjust="spacingAndGlyphs" font-weight="700">$5.17</text><text x="1108.5" y="123.9" font-size="12.4" fill="#464b57" textLength="23.1" lengthAdjust="spacingAndGlyphs">CPC</text><text x="1108.1" y="150.7" font-size="21.8" fill="#0f1012" textLength="55.5" lengthAdjust="spacingAndGlyphs" font-weight="700">$0.74</text><text x="44.2" y="32.2" font-size="19.9" fill="#0c0c0d" textLength="296.4" lengthAdjust="spacingAndGlyphs" font-weight="700">PPC multi-channel dashboard</text><text x="65.8" y="60" font-size="11.5" fill="#4a4f5e" textLength="70.4" lengthAdjust="spacingAndGlyphs">Facebook Ads</text><text x="166.8" y="60" font-size="11.5" fill="#4a4f5e" textLength="64.4" lengthAdjust="spacingAndGlyphs">LinkedIn Ads</text><text x="261.8" y="60" font-size="11.5" fill="#4a4f5e" textLength="56" lengthAdjust="spacingAndGlyphs">Google Ads</text><text x="348.8" y="60" font-size="11.5" fill="#4a4f5e" textLength="54" lengthAdjust="spacingAndGlyphs">TikTok Ads</text><text x="433.5" y="60" font-size="11.5" fill="#4a4f5e" textLength="50.5" lengthAdjust="spacingAndGlyphs">Quora Ads</text><text x="415.3" y="59.4" font-family="Liberation Serif, serif" font-size="15" font-weight="700" fill="#1c1c1c" textLength="12.2" lengthAdjust="spacingAndGlyphs">Q</text><text x="493" y="60.8" font-size="13" fill="#202228" textLength="48.5" lengthAdjust="spacingAndGlyphs">+ 2 more</text><text stroke="#17191d" stroke-width=".25" x="902.7" y="31.1" font-size="13.2" fill="#17191d" textLength="83.8" lengthAdjust="spacingAndGlyphs">Report period:</text><text x="1006.9" y="31.1" font-size="13.6" fill="#2a2d34" textLength="68.3" lengthAdjust="spacingAndGlyphs">2024-09-08</text><line x1="1086.9" y1="26.3" x2="1091.3" y2="26.3" stroke="#2a2d34" stroke-width="1.1"/><text x="1103.2" y="31.1" font-size="13.6" fill="#2a2d34" textLength="66" lengthAdjust="spacingAndGlyphs">2024-10-08</text><text x="43.3" y="227.2" font-size="17.6" fill="#0c0c0d" textLength="180.4" lengthAdjust="spacingAndGlyphs" font-weight="700">Amount spent by Date</text><text x="688.8" y="227.2" font-size="17.6" fill="#0c0c0d" textLength="254.5" lengthAdjust="spacingAndGlyphs" font-weight="700">Impressions and Clicks by Date</text><text x="43.1" y="528.7" font-size="17.6" fill="#0c0c0d" textLength="253.2" lengthAdjust="spacingAndGlyphs" font-weight="700">Impressions and CTR over time</text><text x="688.8" y="528.7" font-size="17.6" fill="#0c0c0d" textLength="274.8" lengthAdjust="spacingAndGlyphs" font-weight="700">Clicks and performance over time</text></svg>
<svg class="abs" style="left:46px;top:48px" width="15" height="15" viewBox="0 0 15 15"><circle cx="7.5" cy="7.4" r="6.7" fill="#0f6ef5"/><path d="M8.35 14.1V9.3h1.55l.27-1.85H8.35V6.3c0-.55.22-.95 1-.95h.9V3.7c-.2-.03-.75-.08-1.4-.08-1.45 0-2.35.85-2.35 2.45v1.38H4.95V9.3H6.5v4.8z" fill="#fff"/></svg>
<svg class="abs" style="left:148px;top:49px" width="14" height="14" viewBox="0 0 14 14"><rect x=".5" y=".5" width="12.2" height="12.2" rx="1.2" fill="#0b67a3"/><rect x="2.35" y="5.2" width="2" height="5.6" fill="#fff"/><circle cx="3.35" cy="3.45" r="1.15" fill="#fff"/><path d="M5.4 5.2h1.9v.8c.4-.6 1.1-1 2-1 1.6 0 2.1 1 2.1 2.5v3.3H9.4V7.9c0-.7-.2-1.2-.95-1.2S7.3 7.2 7.3 8v2.8H5.4z" fill="#fff"/></svg>
<svg class="abs" style="left:243px;top:48px" width="15" height="15" viewBox="0 0 15 15"><path d="M5.35 2.1 1.0 9.9a2.05 2.05 0 0 0 3.55 2.05L8.9 4.15z" fill="#fbbc04"/><path d="M5.25 4.0a2.05 2.05 0 0 1 3.55-2.05l4.5 7.9a2.05 2.05 0 0 1-3.55 2.05z" fill="#3380f2"/><circle cx="2.75" cy="10.95" r="2.05" fill="#22a13f"/></svg>
<svg class="abs" style="left:330px;top:49px" width="14" height="14" viewBox="0 0 14 14"><rect x=".5" y=".2" width="12.5" height="12.5" rx=".5" fill="#0a0a0a"/><g fill="none" stroke="#fff" stroke-width="1.55"><circle cx="5.5" cy="8.45" r="1.9"/><path d="M7.4 8.45V2.2M7.55 2.4c.25 1.55 1.5 2.45 3.5 2.45"/></g></svg>
<svg class="abs" style="left:1183px;top:18px" width="16" height="16" viewBox="0 0 16 16" fill="none" stroke="#2a78b2" stroke-width="1.25"><rect x="2.1" y="3.2" width="11.2" height="10.4" rx="1.9"/><path d="M2.1 6.7h11.2M5.2 1.2v3.2M10.2 1.2v3.2"/><rect x="5" y="9.4" width="1.8" height="1.8" rx=".4" fill="#2a78b2" stroke="none"/></svg>
<svg class="abs" style="left:1234px;top:16px" width="8" height="20" viewBox="0 0 8 20"><circle cx="3.75" cy="3.9" r="1.65" fill="#0d0d0d"/><circle cx="3.75" cy="9.5" r="1.65" fill="#0d0d0d"/><circle cx="3.75" cy="15" r="1.65" fill="#0d0d0d"/></svg>

<div class="edge"></div>
</body>
</html>
